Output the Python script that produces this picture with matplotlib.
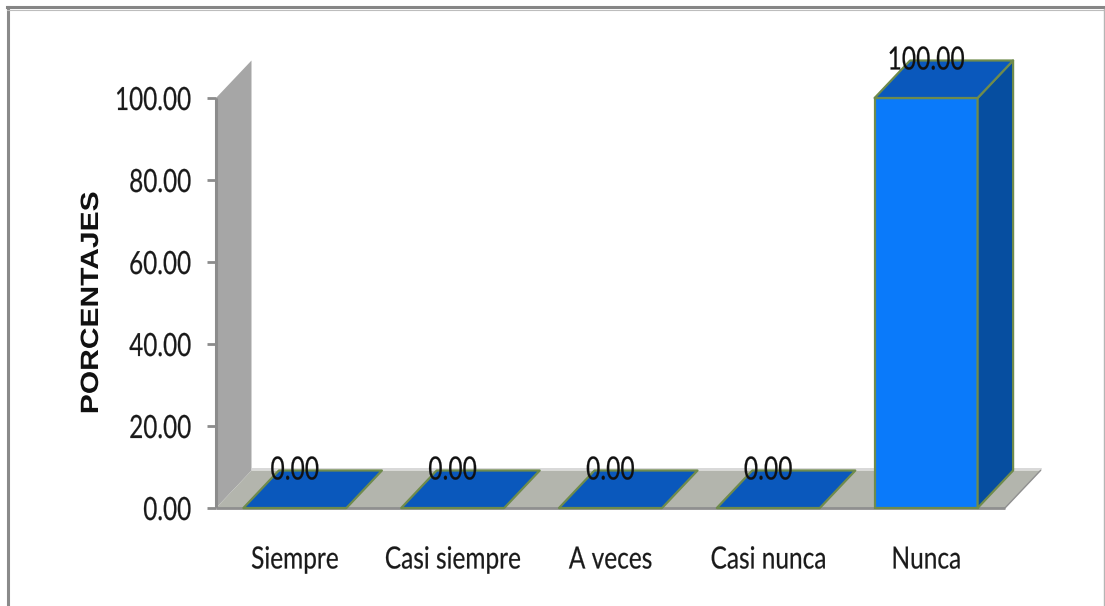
import matplotlib
matplotlib.use('Agg')
import matplotlib.pyplot as plt
from matplotlib.lines import Line2D
from matplotlib.patches import Polygon
from matplotlib.patheffects import AbstractPathEffect
from matplotlib.transforms import Affine2D

categorias = ['Siempre', 'Casi siempre', 'A veces', 'Casi nunca', 'Nunca']
porcentajes = [0.00, 0.00, 0.00, 0.00, 100.00]
ticks_y = [0, 20, 40, 60, 80, 100]

W, H = 1105, 606
fuente = ['Lato', 'DejaVu Sans']


class Estirar(AbstractPathEffect):
    # cambia el ancho del texto sin dejar de ser texto; ancla 0=izq, .5=centro, 1=der
    def __init__(self, sx, ancla=0.5, grosor=0.15):
        super().__init__()
        self.sx = sx
        self.ancla = ancla
        self.grosor = grosor

    def draw_path(self, renderer, gc, tpath, affine, rgbFace=None):
        e = tpath.get_extents()
        c = e.x0 + self.ancla * (e.x1 - e.x0)
        t = Affine2D().translate(-c, 0).scale(self.sx, 1).translate(c, 0) + affine
        gc0 = renderer.new_gc()
        gc0.copy_properties(gc)
        gc0.set_linewidth(self.grosor)
        gc0.set_foreground(rgbFace)
        renderer.draw_path(gc0, tpath, t, rgbFace)
        gc0.restore()


fig = plt.figure(figsize=(W / 100, H / 100), dpi=100, facecolor='white')

# marco de la imagen
fig.add_artist(Line2D([8 / W, 8 / W], [0, 1 - 7 / H], color='#8a8a8a', lw=2.2))
fig.add_artist(Line2D([7 / W, 1], [1 - 7 / H, 1 - 7 / H], color='#868686', lw=2.2))
fig.add_artist(Line2D([7 / W, 1], [1 - 9.5 / H, 1 - 9.5 / H], color='#bdbdbd', lw=0.8))
fig.add_artist(Line2D([1104 / W, 1104 / W], [0, 1 - 9 / H], color='#b5b5b5', lw=1))

# ejes colocados en pixeles: y=0 en 508, y=100 en 98
izq, der, abajo, arriba = 216, 1005, 508, 98
ax = fig.add_axes([izq / W, 1 - abajo / H, (der - izq) / W, (abajo - arriba) / H])
ax.set_xlim(0, len(categorias))
ax.set_ylim(0, 100)
ax.patch.set_visible(False)
for s in ax.spines.values():
    s.set_visible(False)

# profundidad del efecto 3d en unidades de datos
dx = 35.5 / ((der - izq) / len(categorias))
dy = 37.5 / ((abajo - arriba) / 100)
n = len(categorias)
ancho = 103 / ((der - izq) / n)
borde = '#6f8b4c'


def poli(puntos, color, ec='none', lw=0, z=1):
    ax.add_patch(Polygon(puntos, closed=True, fc=color, ec=ec, lw=lw, zorder=z,
                         clip_on=False, joinstyle='round'))


# pared y piso
poli([(0, 0), (dx, dy), (dx, 100 + dy), (0, 100)], '#a6a6a6')
ax.plot([0, 0], [0, 100], color='#8c8c8c', lw=2.2, clip_on=False, zorder=2, solid_capstyle='butt')
poli([(0, 0), (n, 0), (n + dx, dy), (dx, dy)], '#b3b5ad')
ax.plot([dx, n + dx], [dy + 0.3, dy + 0.3], color='#d2d2d2', lw=1.2, clip_on=False, zorder=1)
ax.plot([0, n], [0, 0], color='#8f8f8f', lw=2, clip_on=False, zorder=2, solid_capstyle='butt')
ax.plot([n, n + dx], [0, dy], color='#8f8f8f', lw=1, clip_on=False, zorder=2)

# barras
x_cat = [i + 0.5 for i in range(n)]
ax.bar(x_cat, porcentajes, width=ancho, color='#0a7afa', edgecolor=borde, linewidth=1.6,
       zorder=4, clip_on=False)
for x, v in zip(x_cat, porcentajes):
    a, b = x - ancho / 2, x + ancho / 2
    poli([(a, v), (b, v), (b + dx, v + dy), (a + dx, v + dy)], '#0a58bc', borde, 1.6, 5)
    if v > 0:
        poli([(b, 0), (b + dx, dy), (b + dx, v + dy), (b, v)], '#064ea0', borde, 1.6, 4)
    ax.text(x, v + dy, f'{v:.2f}', ha='center', va='center', fontsize=23, color='#111111',
            family=fuente, zorder=6, clip_on=False, path_effects=[Estirar(0.77)])

# ticks y etiquetas
ax.set_yticks(ticks_y)
ax.set_yticklabels([f'{t:.2f}' for t in ticks_y], family=fuente, fontsize=23, color='#1a1a1a')
ax.tick_params(axis='y', length=6.5, width=2, color='#8c8c8c', pad=11)
ax.set_xticks(x_cat)
ax.set_xticklabels(categorias, family=fuente, fontsize=22, color='#1a1a1a')
ax.tick_params(axis='x', length=0, pad=27)
for et in ax.get_yticklabels():
    et.set_path_effects([Estirar(0.76, 1)])
for et in ax.get_xticklabels():
    et.set_path_effects([Estirar(0.8)])

fig.text(91 / W, 1 - 303 / H, 'PORCENTAJES', rotation=90, ha='center', va='center',
         fontsize=18, fontweight='bold', family=['Liberation Sans', 'DejaVu Sans'], color='#111111',
         path_effects=[Estirar(1.2, grosor=0)])

fig.savefig('out.png', dpi=100)
